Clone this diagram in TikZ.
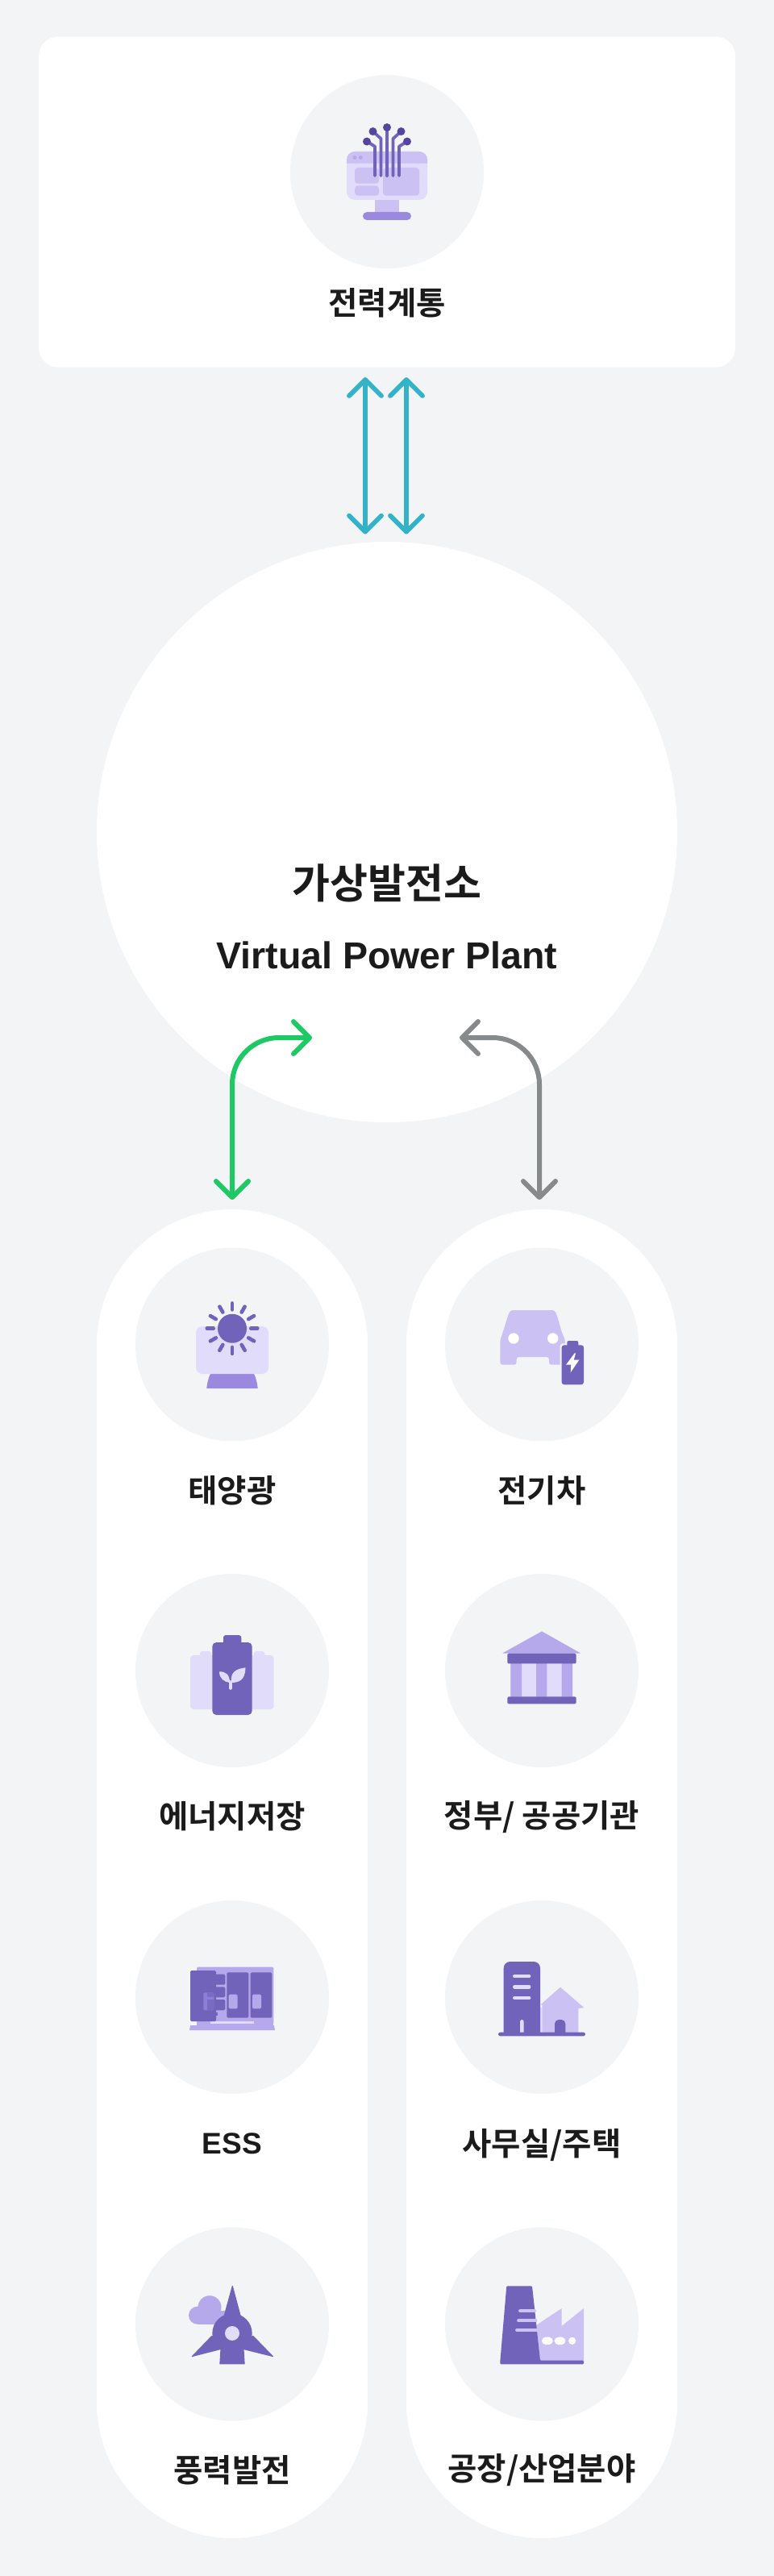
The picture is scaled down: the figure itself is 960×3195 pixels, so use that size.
\documentclass[tikz,border=0pt]{standalone}
\usepackage{fontspec}
\usetikzlibrary{arrows.meta}
\setmainfont{Noto Sans CJK KR}
\newfontfamily\krf{Noto Sans CJK KR}[BoldFont=* Bold]
\newfontfamily\latf{Liberation Sans}
\definecolor{bgc}{HTML}{F3F4F6}
\definecolor{txt}{HTML}{1B1B1B}
\definecolor{p1}{HTML}{E0DCF9}
\definecolor{p2}{HTML}{CBC1F3}
\definecolor{p3}{HTML}{B6A9EB}
\definecolor{p4}{HTML}{9B89E0}
\definecolor{p5}{HTML}{7163BA}
\definecolor{p6}{HTML}{56459C}
\definecolor{arblue}{HTML}{34B2C8}
\definecolor{argreen}{HTML}{1CC964}
\definecolor{argrey}{HTML}{868A8A}
\tikzset{
  panel/.style={fill=white,inner sep=0pt,outer sep=0pt},
  disc/.style={circle,fill=bgc,minimum size=240pt,inner sep=0pt,outer sep=0pt},
  lab/.style={font=\krf\bfseries\fontsize{39.5}{42}\selectfont,text=txt,inner sep=0pt,anchor=center},
  dbl/.style={line width=#1,line join=round,line cap=round,{Straight Barb[length=20pt,width=40pt,round]}-{Straight Barb[length=20pt,width=40pt,round]}},
  trace/.style={draw=p5,line width=3.8pt,line cap=round,line join=round},
}
\begin{document}
\begin{tikzpicture}[x=1pt,y=-1pt]
\useasboundingbox (0,0) rectangle (960,3195);
\fill[bgc] (0,0) rectangle (960,3195);

% panels
\node[panel,rounded corners=24pt,minimum width=864pt,minimum height=410pt] (card) at (480,250.5) {};
\node[panel,circle,minimum size=720pt] (vpp) at (480,1032) {};
\node[panel,rounded corners=168pt,minimum width=336pt,minimum height=1648pt] (pillL) at (288,2324) {};
\node[panel,rounded corners=168pt,minimum width=336pt,minimum height=1648pt] (pillR) at (672,2324) {};

% discs
\node[disc] (dtop) at (480,213) {};
\node[disc] (d1) at (288,1667.5) {};
\node[disc] (d2) at (288,2072) {};
\node[disc] (d3) at (288,2477) {};
\node[disc] (d4) at (288,2882.5) {};
\node[disc] (d5) at (672,1667.5) {};
\node[disc] (d6) at (672,2072) {};
\node[disc] (d7) at (672,2477) {};
\node[disc] (d8) at (672,2882.5) {};

% labels
\node[lab] (l0) at (480,376) {전력계통};
\node[lab,font=\krf\bfseries\fontsize{51}{54}\selectfont] (tk) at (480,1095.5) {가상발전소};
\node[lab,font=\latf\bfseries\fontsize{46.5}{50}\selectfont] (te) at (480,1185) {Virtual Power Plant};
\node[lab,font=\latf\bfseries\fontsize{37}{42}\selectfont] (l3) at (288,2659) {ESS};
\node[lab] (l1) at (288,1849) {태양광};
\node[lab] (l2) at (288,2253) {에너지저장};
\node[lab] (l4) at (288,3064) {풍력발전};
\node[lab] (l5) at (672,1849) {전기차};
\node[lab] (l6) at (672,2253.5) {정부/ 공공기관};
\node[lab] (l7) at (672,2660) {사무실/주택};
\node[lab] (l8) at (672,3064) {공장/산업분야};

% connectors
\coordinate (bt1) at (453,468); \coordinate (bb1) at (453,662.5);
\coordinate (bt2) at (504,468); \coordinate (bb2) at (504,662.5);
\draw[arblue,dbl=5.8pt] (bt1) -- (bb1);
\draw[arblue,dbl=5.8pt] (bt2) -- (bb2);
\coordinate (gh) at (387,1287); \coordinate (gv) at (288,1488);
\coordinate (yh) at (570,1287); \coordinate (yv) at (669,1488);
\draw[argreen,dbl=6pt,rounded corners=58pt] (gv) |- (gh);
\draw[argrey,dbl=6pt,rounded corners=58pt] (yv) |- (yh);

% icon: grid monitor
\fill[p1,rounded corners=10pt] (430,188) rectangle (530,248);
\fill[p2] (430,202.7) -- (430,198) arc[start angle=180,end angle=270,radius=10] -- (520,188) arc[start angle=270,end angle=360,radius=10] -- (530,202.7) -- cycle;
\fill[p3] (440,195.3) circle (2.5) (447.3,195.3) circle (2.5);
\fill[p2,rounded corners=4pt] (440,208) rectangle (470,227.7);
\fill[p2,rounded corners=4pt] (440,230.3) rectangle (470,242.7);
\fill[p2,rounded corners=4pt] (475,208) rectangle (520,242.7);
\fill[p2] (465,248) rectangle (495,264);
\fill[p4,rounded corners=5pt] (450,263) rectangle (510,273);
\draw[trace] (480,218) -- (480,160);
\draw[trace] (472.5,218) -- (472.5,172) -- (462.5,163);
\draw[trace] (487.5,218) -- (487.5,172) -- (497.5,163);
\draw[trace] (465,218) -- (465,181.7) -- (455,175.3);
\draw[trace] (495,218) -- (495,181.7) -- (505,175.3);
\fill[p6] (480,158) circle (5) (462.5,163) circle (5) (497.5,163) circle (5) (455,175.5) circle (5) (505,175.5) circle (5);

% icon: solar
\fill[p4] (256.3,1722) .. controls (257,1714) and (259,1708) .. (261,1704) -- (315,1704) .. controls (317,1708) and (319,1714) .. (319.7,1722) -- cycle;
\fill[p1,rounded corners=8pt] (243,1645) rectangle (333,1704);
\fill[p5] (288,1647.7) circle (18);
\foreach \a in {0,30,...,330}
  \draw[p5,line width=4.6pt,line cap=round] (288,1647.7) ++(\a:23.3) -- ++(\a:8);

% icon: EV
\fill[p2,rounded corners=3pt] (620.3,1692.7) -- (620.3,1662) -- (623.5,1653) -- (630,1632) -- (633,1625) -- (688,1625) -- (691,1632) -- (697,1653) -- (701,1662) -- (701,1692.7) -- (681,1692.7) -- (681,1683) -- (640.7,1683) -- (640.7,1692.7) -- cycle;
\fill[white] (637,1660) circle (6.7) (685.7,1660) circle (6.7);
\fill[bgc,rounded corners=3pt] (694.7,1666.3) rectangle (726,1719.3);
\fill[p5,rounded corners=2pt] (703.3,1663) rectangle (717.3,1672);
\fill[p5,rounded corners=3pt] (696.7,1668.3) rectangle (724,1717.3);
\fill[white] (712.7,1678.3) -- (702,1692.7) -- (708.3,1692.7) -- (707.7,1702.3) -- (718.3,1686.7) -- (711.7,1686.7) -- (714,1678.3) -- cycle;

% icon: batteries
\fill[p1,rounded corners=3pt] (248,2048) rectangle (262,2060);
\fill[p1,rounded corners=3pt] (315,2048) rectangle (328.3,2060);
\fill[p1,rounded corners=4pt] (236,2053) rectangle (270,2120);
\fill[p1,rounded corners=4pt] (306,2053) rectangle (339.7,2120);
\fill[p5,rounded corners=3pt] (277,2028) rectangle (299.3,2042);
\fill[p5,rounded corners=5pt] (263.3,2037) rectangle (312.7,2127);
\fill[p1] (286.8,2086) .. controls (286,2074) and (292,2070) .. (304.5,2068.3) .. controls (304,2078) and (302,2087) .. (286.8,2087) -- cycle;
\fill[p1] (285,2087) .. controls (278,2086) and (272,2082) .. (272,2073.3) .. controls (280,2073) and (285,2077) .. (285,2087) -- cycle;
\draw[p1,line width=3.6pt,line cap=round] (285.8,2086) -- (285.8,2094);

% icon: government
\fill[p1] (633.3,2063) rectangle (710,2104.5);
\fill[p3] (633.3,2063) rectangle (647,2104.5) (665,2063) rectangle (678.3,2104.5) (696.7,2063) rectangle (710,2104.5);
\fill[p3,rounded corners=0.8pt] (672,2023.3) -- (720.3,2050.5) -- (623,2050.5) -- cycle;
\fill[p5,rounded corners=1.5pt] (629.3,2050.7) rectangle (714.7,2063.3);
\fill[p5,rounded corners=2pt] (629.3,2104.3) rectangle (714.7,2113.3);

% icon: ESS
\fill[p3,rounded corners=1.5pt] (244,2439.7) rectangle (339.3,2510);
\fill[p3] (236,2512) -- (340,2512) -- (341,2518) -- (235,2518) -- cycle;
\fill[p3] (244,2506) rectangle (339.3,2514);
\fill[p1] (261,2507) rectangle (315,2510.3);
\fill[p5,rounded corners=1.5pt] (236,2444) rectangle (268,2507);
\fill[p5,rounded corners=1.5pt] (266,2448.7) rectangle (279.3,2461.7);
\fill[p5,rounded corners=1.5pt] (266,2464.3) rectangle (279.3,2477.3);
\fill[p5,rounded corners=1.5pt] (266,2480) rectangle (279.3,2493.3);
\fill[p5] (266,2496) rectangle (270,2500);
\fill[p5,rounded corners=1.5pt] (281.3,2446.3) rectangle (308.3,2502.7);
\fill[p5,rounded corners=1.5pt] (310.7,2446.3) rectangle (337.3,2502.7);
\fill[p3,rounded corners=1.5pt] (283.7,2473.7) rectangle (294.7,2491.3);
\fill[p3,rounded corners=1.5pt] (313,2473.7) rectangle (324,2491.3);
\fill[p4!70!p5,rounded corners=1.5pt] (252.3,2471.3) rectangle (265.3,2493.3);
\fill[p5!80!p4] (257,2471.3) rectangle (265.3,2476.5) (257,2480) rectangle (265.3,2493.3);

% icon: office and house
\fill[p2] (695,2464.7) -- (724.3,2490) -- (717.3,2491) -- (717.3,2522) -- (672.3,2522) -- (672.3,2486) -- (670,2486.7) -- cycle;
\fill[p1] (670,2490) rectangle (672.3,2522);
\fill[p5] (624.7,2522) -- (624.7,2441) arc[start angle=180,end angle=270,radius=8] -- (662,2433) arc[start angle=270,end angle=360,radius=8] -- (670,2522) -- cycle;
\draw[p1,line width=4.4pt,line cap=round] (638.2,2451) -- (656.2,2451) (638.2,2464.3) -- (656.2,2464.3) (638.2,2478) -- (656.2,2478);
\fill[p1] (645,2521) -- (645,2507.4) arc[start angle=180,end angle=360,radius=2.35] -- (649.7,2521) -- cycle;
\fill[p5] (688,2521) -- (688,2510) arc[start angle=180,end angle=270,radius=5] -- (696.3,2505) arc[start angle=270,end angle=360,radius=5] -- (701.3,2521) -- cycle;
\fill[p5,rounded corners=2.3pt] (618,2520.7) rectangle (726,2525.3);

% icon: wind
\fill[p3] (260,2861.7) circle (14.5) (245,2871.7) circle (11);
\fill[p3] (245,2866) rectangle (285,2882.7);
\fill[p5] (288,2894) circle (24.7);
\fill[p5,rounded corners=1.5pt] (288.3,2833.3) -- (299,2873.3) -- (277.3,2873.3) -- cycle;
\fill[p5,rounded corners=1.5pt] (236.7,2923.5) -- (263.3,2896) -- (274,2914) -- cycle;
\fill[p5,rounded corners=1.5pt] (340,2923.5) -- (313.3,2896) -- (301.7,2914) -- cycle;
\fill[p5] (274,2905) -- (302,2905) -- (303.7,2932.3) -- (272.3,2932.3) -- cycle;
\fill[p1] (288,2894) circle (9);

% icon: factory
\fill[p2] (665,2884) -- (696.7,2863) -- (696.7,2885) -- (724,2863) -- (724,2928) -- (668,2928) -- cycle;
\fill[p5,rounded corners=1.2pt] (620.3,2932.3) -- (620.3,2929) -- (628.3,2835.3) -- (660,2835.3) -- (670,2927.7) -- (724,2927.7) -- (724,2932.3) -- cycle;
\draw[p2,line width=3.8pt,line cap=round] (645,2866.3) -- (663,2866.3) (643,2878.3) -- (664.5,2878.3) (641,2890) -- (665.8,2890);
\fill[white,rounded corners=4.6pt] (672,2898.7) rectangle (685.7,2908);
\fill[white,rounded corners=4.6pt] (687.7,2898.7) rectangle (701.3,2908);
\fill[white] (709.7,2903.3) circle (4.6);
\end{tikzpicture}
\end{document}
